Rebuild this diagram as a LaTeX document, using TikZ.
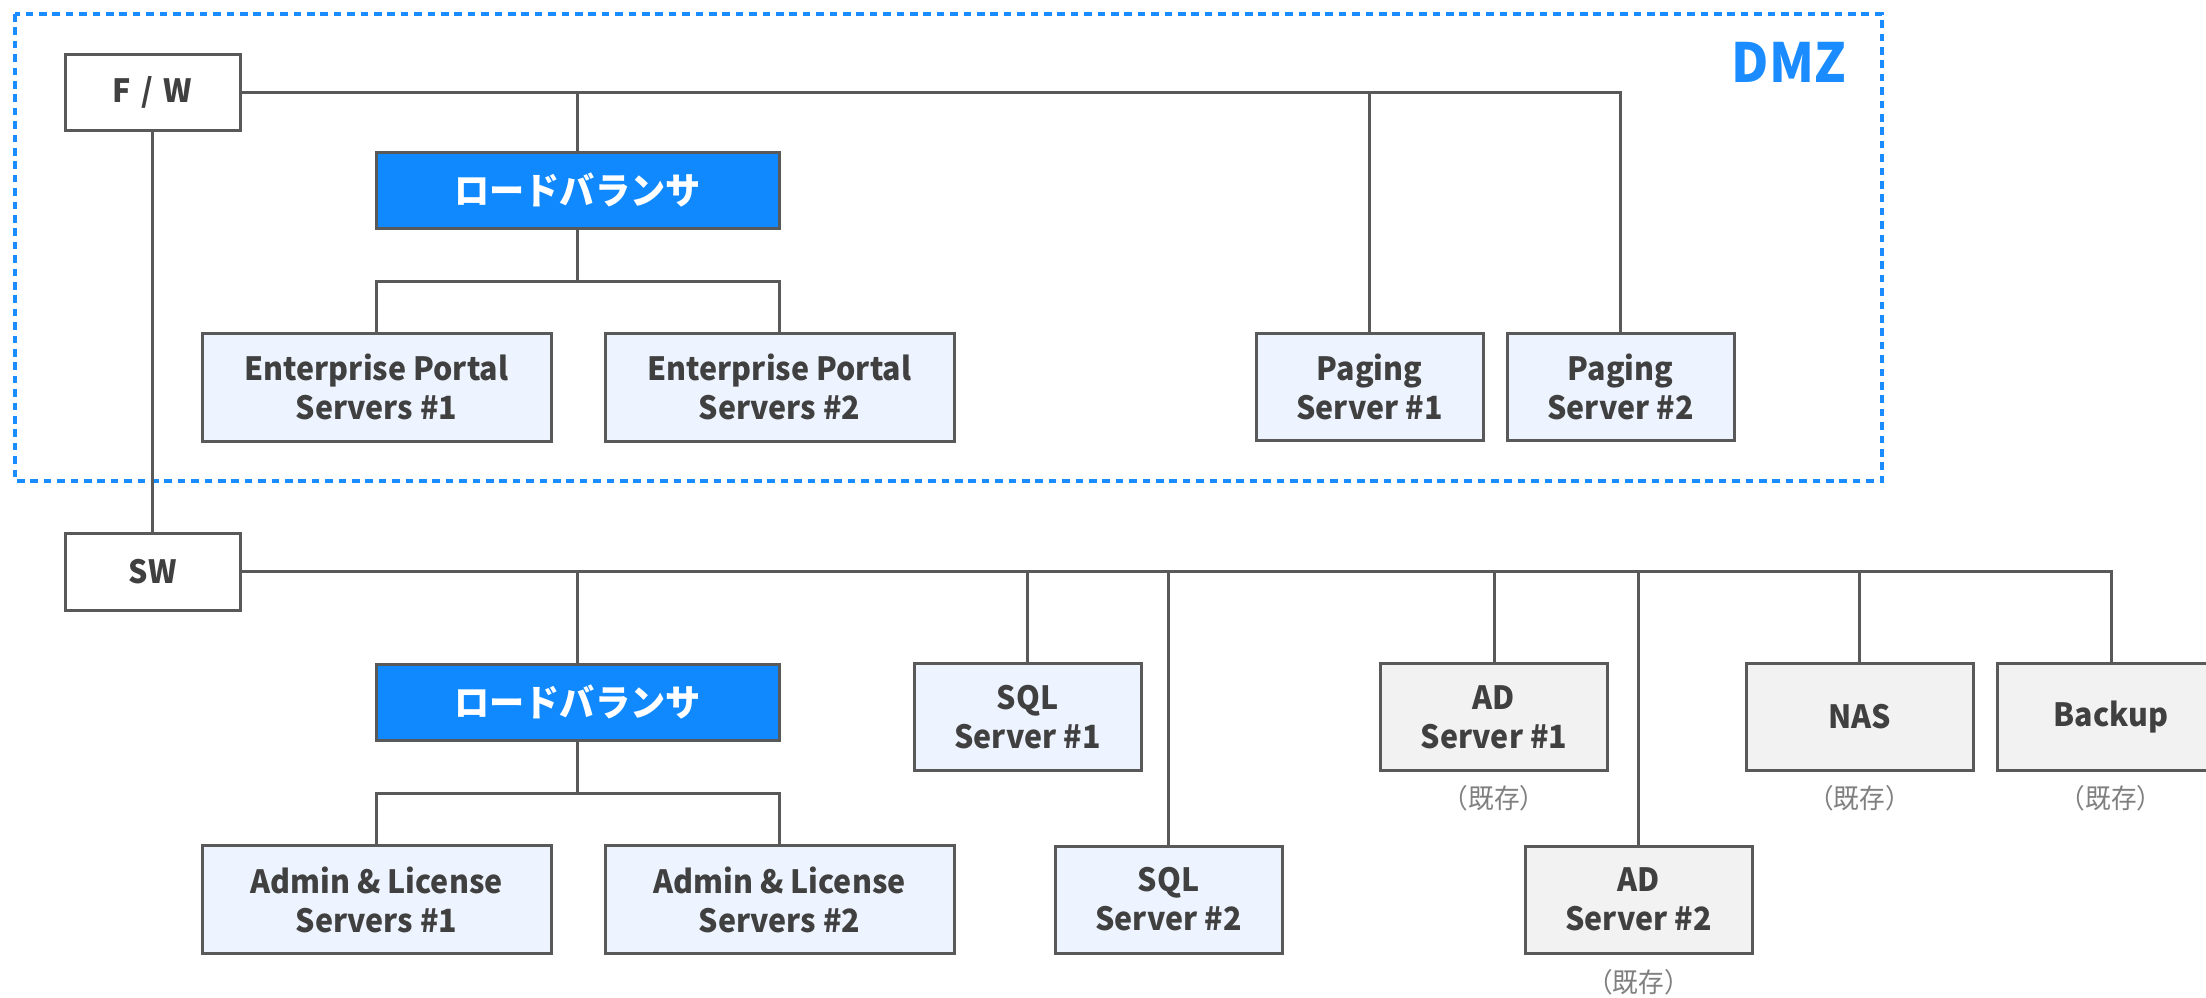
\documentclass[tikz,border=0pt]{standalone}
\usepackage{fontspec}
\setmainfont{Noto Sans CJK JP}[FakeStretch=0.95]
\definecolor{txt}{HTML}{404040}
\definecolor{bord}{HTML}{595959}
\definecolor{lbfill}{HTML}{1089FF}
\definecolor{lightblue}{HTML}{EDF4FF}
\definecolor{lightgray}{HTML}{F2F2F2}
\definecolor{dmzblue}{HTML}{1A8CFF}
\definecolor{kizon}{HTML}{808080}
\tikzset{
  box/.style={draw=bord, line width=1.5pt, inner sep=0pt, align=center, text=txt,
    font=\fontsize{16}{19.5}\selectfont\bfseries},
  plainbox/.style={box, fill=white},
  lbbox/.style={box, fill=lbfill, text=white, font=\fontsize{18.5}{20}\selectfont\bfseries,
    minimum width=201.5pt, minimum height=38pt},
  bluebox/.style={box, fill=lightblue},
  graybox/.style={box, fill=lightgray},
  wide/.style={minimum width=174.5pt, minimum height=54pt},
  narrow/.style={minimum width=113.5pt, minimum height=53.5pt},
  conn/.style={draw=bord, line width=1.5pt},
  kz/.style={text=kizon, font=\fontsize{13.5}{15}\selectfont, inner sep=0pt},
}
\begin{document}
\begin{tikzpicture}[x=0.5pt, y=-0.5pt]
\useasboundingbox (0,0) rectangle (2206,997);
\clip (0,0) rectangle (2206,997);
% DMZ frame
\draw[dmzblue, line width=2.4pt, dash pattern=on 3.8pt off 2.9pt] (15,14) rectangle (1882,481);
\node[text=dmzblue, font=\fontsize{27}{30}\selectfont\bfseries, inner sep=0pt] (dmz) at (1789,62) {DMZ};
% nodes
\node[plainbox, minimum width=87.5pt, minimum height=38pt] (fw) at (152.5,92) {F\,\,/\,\,W};
\node[plainbox, minimum width=87.5pt, minimum height=38.5pt] (sw) at (152.5,571.5) {SW};
\node[lbbox] (lb1) at (577.5,190) {ロードバランサ};
\node[lbbox] (lb2) at (577.5,702) {ロードバランサ};
\node[bluebox, wide] (ep1) at (376.5,387) {Enterprise Portal\\Servers \#1};
\node[bluebox, wide] (ep2) at (779.5,387) {Enterprise Portal\\Servers \#2};
\node[bluebox, narrow] (pg1) at (1369.5,387) {Paging\\Server \#1};
\node[bluebox, narrow] (pg2) at (1620.5,387) {Paging\\Server \#2};
\node[bluebox, wide] (al1) at (376.5,899.5) {Admin \& License\\Servers \#1};
\node[bluebox, wide] (al2) at (779.5,899.5) {Admin \& License\\Servers \#2};
\node[bluebox, narrow] (sql1) at (1027.5,717) {SQL\\Server \#1};
\node[bluebox, narrow] (sql2) at (1168.5,899.5) {SQL\\Server \#2};
\node[graybox, narrow] (ad1) at (1494,717) {AD\\Server \#1};
\node[graybox, narrow] (ad2) at (1638.5,899.5) {AD\\Server \#2};
\node[graybox, narrow] (nas) at (1859.5,717) {NAS};
\node[graybox, narrow] (bk) at (2111,717) {Backup};
\node[kz] (k1) at (1494,798) {（既存）};
\node[kz] (k2) at (1638.5,982) {（既存）};
\node[kz] (k3) at (1859.5,798) {（既存）};
\node[kz] (k4) at (2111,798) {（既存）};
% junctions
\coordinate (j1) at (577.5,281);
\coordinate (j2) at (577.5,793);
% connectors
\draw[conn] (fw.east) -| (pg2.north);
\draw[conn] (lb1.north) -- (lb1.north |- fw.east);
\draw[conn] (pg1.north) -- (pg1.north |- fw.east);
\draw[conn] (lb1.south) -- (j1);
\draw[conn] (ep1.north) |- (j1) -| (ep2.north);
\draw[conn] (fw.south) -- (sw.north);
\draw[conn] (sw.east) -| (bk.north);
\draw[conn] (lb2.north) -- (lb2.north |- sw.east);
\draw[conn] (sql1.north) -- (sql1.north |- sw.east);
\draw[conn] (sql2.north) -- (sql2.north |- sw.east);
\draw[conn] (ad1.north) -- (ad1.north |- sw.east);
\draw[conn] (ad2.north) -- (ad2.north |- sw.east);
\draw[conn] (nas.north) -- (nas.north |- sw.east);
\draw[conn] (lb2.south) -- (j2);
\draw[conn] (al1.north) |- (j2) -| (al2.north);
\end{tikzpicture}
\end{document}
